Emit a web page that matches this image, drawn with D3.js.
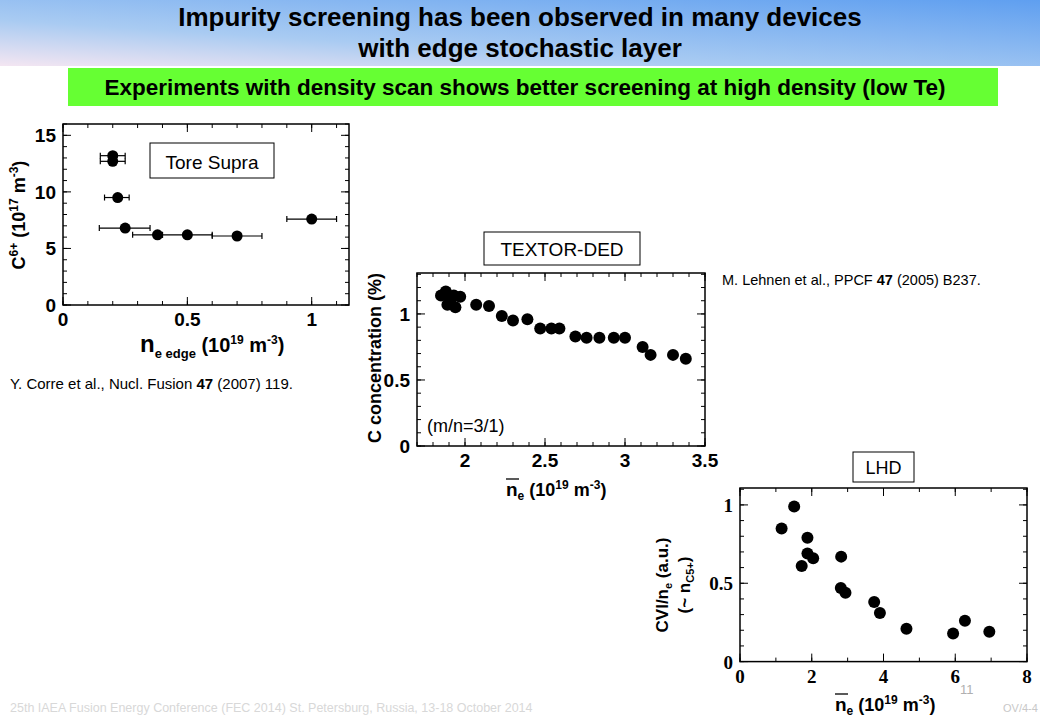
<!DOCTYPE html>
<html><head><meta charset="utf-8">
<script src="https://cdn.jsdelivr.net/npm/d3@7"></script>
<style>body{margin:0;background:#fff}svg{display:block;font-family:"Liberation Sans",Arial,sans-serif}</style>
</head><body><svg id="c" width="1040" height="720"></svg>
<script>
// Tore Supra: x, y, x error low/high
var tsX = [0.2, 0.2, 0.22, 0.25, 0.38, 0.5, 0.7, 1.0];
var tsY = [13.2, 12.7, 9.5, 6.8, 6.2, 6.2, 6.1, 7.6];
var tsLo = [0.15, 0.15, 0.167, 0.146, 0.28, 0.4, 0.6, 0.9];
var tsHi = [0.25, 0.25, 0.266, 0.35, 0.4, 0.6, 0.8, 1.1];
// TEXTOR-DED
var txX = [1.85, 1.88, 1.90, 1.91, 1.89, 1.93, 1.94, 1.97, 2.07, 2.15, 2.23, 2.30, 2.39, 2.47, 2.54, 2.59, 2.69, 2.76, 2.84, 2.93, 3.00, 3.11, 3.16, 3.30, 3.38];
var txY = [1.14, 1.17, 1.13, 1.08, 1.07, 1.14, 1.05, 1.13, 1.07, 1.06, 0.985, 0.95, 0.96, 0.89, 0.89, 0.89, 0.83, 0.82, 0.82, 0.82, 0.82, 0.75, 0.69, 0.69, 0.66];
// LHD
var lhX = [1.16, 1.51, 1.72, 1.88, 1.88, 2.04, 2.82, 2.81, 2.94, 3.74, 3.90, 4.64, 5.94, 6.27, 6.95];
var lhY = [0.85, 0.99, 0.61, 0.79, 0.69, 0.66, 0.67, 0.47, 0.44, 0.38, 0.31, 0.21, 0.18, 0.26, 0.19];

var svg = d3.select('#c');
var defs = svg.append('defs');
var g1 = defs.append('linearGradient').attr('id','hdr').attr('x1','0').attr('y1','1').attr('x2','1').attr('y2','0');
g1.append('stop').attr('offset','0').attr('stop-color','#f4e6f2');
g1.append('stop').attr('offset','0.35').attr('stop-color','#a9cbf2');
g1.append('stop').attr('offset','1').attr('stop-color','#5f9ff0');
svg.append('rect').attr('width',1040).attr('height',66).attr('fill','url(#hdr)');
svg.append('text').attr('x',520).attr('y',26).attr('text-anchor','middle').attr('font-size',26).attr('font-weight','bold').text('Impurity screening has been observed in many devices');
svg.append('text').attr('x',520).attr('y',57).attr('text-anchor','middle').attr('font-size',26).attr('font-weight','bold').text('with edge stochastic layer');
svg.append('rect').attr('x',68).attr('y',68).attr('width',930).attr('height',38).attr('fill','#66ff33');
svg.append('text').attr('x',525).attr('y',95).attr('text-anchor','middle').attr('font-size',22.5).attr('font-weight','bold').text('Experiments with density scan shows better screening at high density (low Te)');

function panel(o) {
    var x = d3.scaleLinear().domain(o.xd).range([o.l, o.r]);
    var y = d3.scaleLinear().domain(o.yd).range([o.b, o.t]);
    var g = svg.append('g');
    g.append('rect').attr('x',o.l).attr('y',o.t).attr('width',o.r-o.l).attr('height',o.b-o.t)
	.attr('fill','none').attr('stroke','#000').attr('stroke-width',1.5);
    function ticks(arr, len, isX) {
	arr.forEach(function(v) {
	    if (isX) {
		g.append('line').attr('x1',x(v)).attr('x2',x(v)).attr('y1',o.b).attr('y2',o.b-len).attr('stroke','#000');
		g.append('line').attr('x1',x(v)).attr('x2',x(v)).attr('y1',o.t).attr('y2',o.t+len).attr('stroke','#000');
	    } else {
		g.append('line').attr('y1',y(v)).attr('y2',y(v)).attr('x1',o.l).attr('x2',o.l+len).attr('stroke','#000');
		g.append('line').attr('y1',y(v)).attr('y2',y(v)).attr('x1',o.r).attr('x2',o.r-len).attr('stroke','#000');
	    }
	});
    }
    ticks(d3.range(o.xd[0], o.xd[1]+1e-9, o.xm), 4, true);
    ticks(d3.range(o.yd[0], o.yd[1]+1e-9, o.ym), 4, false);
    ticks(o.xt, 8, true);
    ticks(o.yt, 8, false);
    o.xt.forEach(function(v) {
	g.append('text').attr('x',x(v)).attr('y',o.b+21).attr('text-anchor','middle').attr('font-size',19)
	    .attr('font-weight','bold').attr('font-family',o.tf).text(o.fmt(v));
    });
    o.yt.forEach(function(v) {
	g.append('text').attr('x',o.l-7).attr('y',y(v)+7).attr('text-anchor','end').attr('font-size',19)
	    .attr('font-weight','bold').attr('font-family',o.tf).text(o.fmt(v));
    });
    return {x:x, y:y, g:g};
}
var fmt = function(v){ return String(+v.toFixed(2)); };
var serif = '"Liberation Serif","Times New Roman",serif';

// Panel 1
var p1 = panel({l:63,r:349,t:124,b:305,xd:[0,1.15],yd:[0,16],xm:0.1,ym:1,xt:[0,0.5,1],yt:[0,5,10,15],fmt:fmt,tf:null});
tsX.forEach(function(v,i) {
    var yy = p1.y(tsY[i]);
    p1.g.append('line').attr('x1',p1.x(tsLo[i])).attr('x2',p1.x(tsHi[i])).attr('y1',yy).attr('y2',yy).attr('stroke','#000').attr('stroke-width',1.2);
    [tsLo[i],tsHi[i]].forEach(function(e){
	p1.g.append('line').attr('x1',p1.x(e)).attr('x2',p1.x(e)).attr('y1',yy-3).attr('y2',yy+3).attr('stroke','#000').attr('stroke-width',1.2);
    });
    p1.g.append('circle').attr('cx',p1.x(v)).attr('cy',yy).attr('r',5.5).attr('fill','#000');
});
svg.append('rect').attr('x',150).attr('y',143).attr('width',124).attr('height',35).attr('fill','#fff').attr('stroke','#000');
svg.append('text').attr('x',212).attr('y',169).attr('text-anchor','middle').attr('font-size',19).text('Tore Supra');
var yl1 = svg.append('text').attr('transform','translate(25,215) rotate(-90)').attr('text-anchor','middle').attr('font-size',18).attr('font-weight','bold');
yl1.append('tspan').text('C');
yl1.append('tspan').attr('font-size',12).attr('dy',-7).text('6+');
yl1.append('tspan').attr('dy',7).text(' (10');
yl1.append('tspan').attr('font-size',12).attr('dy',-7).text('17');
yl1.append('tspan').attr('dy',7).text(' m');
yl1.append('tspan').attr('font-size',12).attr('dy',-7).text('-3');
yl1.append('tspan').attr('dy',7).text(')');
var xl1 = svg.append('text').attr('x',140).attr('y',352).attr('font-size',20).attr('font-weight','bold');
xl1.append('tspan').attr('font-size',24).text('n');
xl1.append('tspan').attr('font-size',13).attr('dy',6).text('e edge');
xl1.append('tspan').attr('dy',-6).text(' (10');
xl1.append('tspan').attr('font-size',12).attr('dy',-8).text('19');
xl1.append('tspan').attr('dy',8).text(' m');
xl1.append('tspan').attr('font-size',12).attr('dy',-8).text('-3');
xl1.append('tspan').attr('dy',8).text(')');
svg.append('text').attr('x',10).attr('y',389).attr('font-size',15).html('Y. Corre et al., Nucl. Fusion <tspan font-weight="bold">47</tspan> (2007) 119.');

// Panel 2
var p2 = panel({l:417,r:705,t:273,b:446,xd:[1.7,3.5],yd:[0,1.31],xm:0.1,ym:0.1,xt:[2,2.5,3,3.5],yt:[0,0.5,1],fmt:fmt,tf:null});
txX.forEach(function(v,i) {
    p2.g.append('circle').attr('cx',p2.x(v)).attr('cy',p2.y(txY[i])).attr('r',6).attr('fill','#000');
});
svg.append('text').attr('x',427).attr('y',432).attr('font-size',18).text('(m/n=3/1)');
svg.append('rect').attr('x',484).attr('y',232).attr('width',156).attr('height',33).attr('fill','#fff').attr('stroke','#000');
svg.append('text').attr('x',562).attr('y',256).attr('text-anchor','middle').attr('font-size',19).text('TEXTOR-DED');
svg.append('text').attr('transform','translate(381,358) rotate(-90)').attr('text-anchor','middle').attr('font-size',18).attr('font-weight','bold').text('C concentration (%)');
function neLabel(x0, y0) {
    var t = svg.append('text').attr('x',x0).attr('y',y0).attr('font-size',18).attr('font-weight','bold');
    t.append('tspan').attr('font-size',19).text('n');
    t.append('tspan').attr('font-size',12).attr('dy',4).text('e');
    t.append('tspan').attr('dy',-4).text(' (10');
    t.append('tspan').attr('font-size',12).attr('dy',-7).text('19');
    t.append('tspan').attr('dy',7).text(' m');
    t.append('tspan').attr('font-size',12).attr('dy',-7).text('-3');
    t.append('tspan').attr('dy',7).text(')');
    svg.append('line').attr('x1',x0).attr('x2',x0+13).attr('y1',y0-17).attr('y2',y0-17).attr('stroke','#000').attr('stroke-width',1.3);
}
neLabel(506, 496);
svg.append('text').attr('x',722).attr('y',285).attr('font-size',14.5).html('M. Lehnen et al., PPCF <tspan font-weight="bold">47</tspan> (2005) B237.');

// Panel 3
var p3 = panel({l:740,r:1027,t:488,b:661.6,xd:[0,8],yd:[0,1.108],xm:1,ym:0.1,xt:[0,2,4,6,8],yt:[0,0.5,1],fmt:fmt,tf:serif});
lhX.forEach(function(v,i) {
    p3.g.append('circle').attr('cx',p3.x(v)).attr('cy',p3.y(lhY[i])).attr('r',6).attr('fill','#000');
});
svg.append('rect').attr('x',853).attr('y',452).attr('width',61).attr('height',30).attr('fill','#fff').attr('stroke','#000');
svg.append('text').attr('x',883.5).attr('y',474).attr('text-anchor','middle').attr('font-size',18).text('LHD');
var yl3 = svg.append('text').attr('transform','translate(668,585) rotate(-90)').attr('text-anchor','middle').attr('font-size',17).attr('font-weight','bold');
yl3.append('tspan').text('CVI/n');
yl3.append('tspan').attr('font-size',11).attr('dy',4).text('e');
yl3.append('tspan').attr('dy',-4).text(' (a.u.)');
var yl3b = svg.append('text').attr('transform','translate(690,585) rotate(-90)').attr('text-anchor','middle').attr('font-size',17).attr('font-weight','bold');
yl3b.append('tspan').text('(~ n');
yl3b.append('tspan').attr('font-size',11).attr('dy',4).text('C5+');
yl3b.append('tspan').attr('dy',-4).text(')');
neLabel(835, 711);

svg.append('text').attr('x',10).attr('y',712).attr('font-size',12.5).attr('fill','#d8d8d8').text('25th IAEA Fusion Energy Conference (FEC 2014) St. Petersburg, Russia, 13-18 October 2014');
svg.append('text').attr('x',960).attr('y',694).attr('font-size',13).attr('fill','#b0b0b0').text('11');
svg.append('text').attr('x',1003).attr('y',712).attr('font-size',11).attr('fill','#c8c8c8').text('OV/4-4');
</script></body></html>
